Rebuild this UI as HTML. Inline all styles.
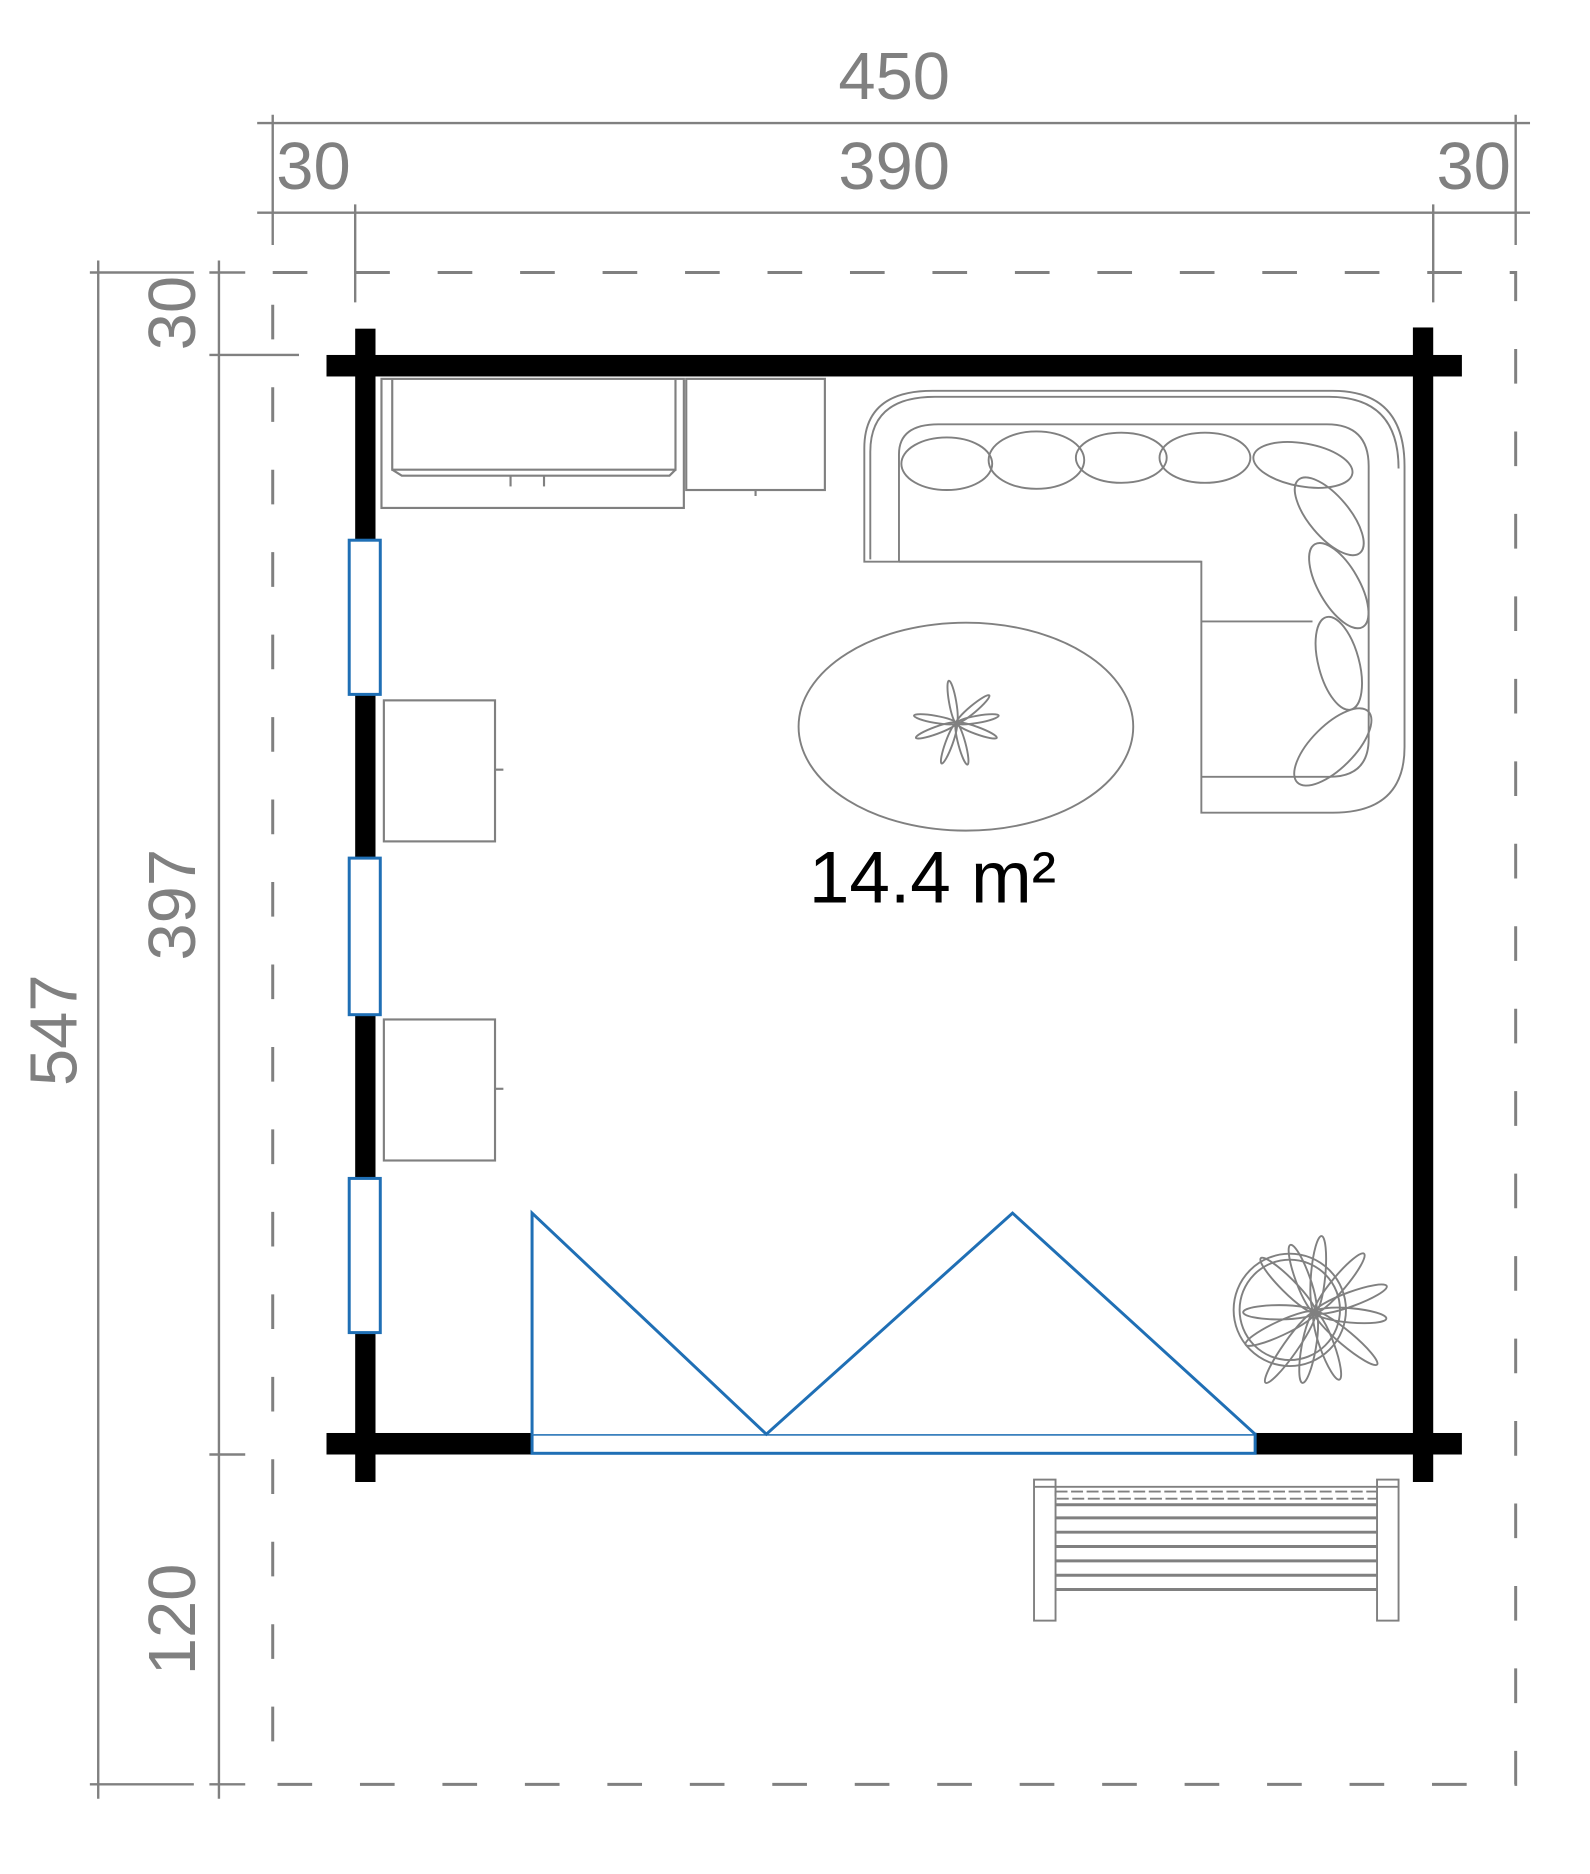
<!DOCTYPE html>
<html><head><meta charset="utf-8"><style>
html,body{margin:0;padding:0;background:#fff;}
svg{display:block;}
text{font-family:"Liberation Sans",Arial,sans-serif;fill:#808080;}
</style></head><body>
<svg width="1590" height="1874" viewBox="0 0 1330 1568" xmlns="http://www.w3.org/2000/svg">
<rect width="1330" height="1568" fill="#fff"/>
<g stroke="#808080" stroke-width="2" fill="none">
  <line x1="215" y1="103" x2="1280" y2="103"/>
  <line x1="215" y1="178" x2="1280" y2="178"/>
  <line x1="228" y1="96" x2="228" y2="205"/>
  <line x1="1268" y1="96" x2="1268" y2="205"/>
  <line x1="297" y1="171" x2="297" y2="253"/>
  <line x1="1199" y1="171" x2="1199" y2="253"/>
  <line x1="82" y1="218" x2="82" y2="1505"/>
  <line x1="183" y1="218" x2="183" y2="1505"/>
  <line x1="75" y1="228" x2="162" y2="228"/>
  <line x1="175" y1="228" x2="205" y2="228"/>
  <line x1="175" y1="297" x2="250" y2="297"/>
  <line x1="175" y1="1217" x2="205" y2="1217"/>
  <line x1="75" y1="1493" x2="162" y2="1493"/>
  <line x1="175" y1="1493" x2="205" y2="1493"/>
</g>
<rect x="228" y="228" width="1040" height="1265" fill="none" stroke="#808080" stroke-width="2.5" stroke-dasharray="29 40"/>
<g style="font-size:56px">
<text x="748" y="83" text-anchor="middle">450</text>
<text x="231" y="158">30</text>
<text x="748" y="158" text-anchor="middle">390</text>
<text x="1264" y="158" text-anchor="end">30</text>
<text transform="translate(64,862) rotate(-90)" text-anchor="middle">547</text>
<text transform="translate(163,262) rotate(-90)" text-anchor="middle">30</text>
<text transform="translate(163,757) rotate(-90)" text-anchor="middle">397</text>
<text transform="translate(163,1355) rotate(-90)" text-anchor="middle">120</text>
</g>

<g fill="#000">
  <rect x="273" y="297" width="950" height="18"/>
  <rect x="273" y="1199" width="950" height="18"/>
  <rect x="297" y="275" width="17" height="965"/>
  <rect x="1182" y="274" width="17" height="966"/>
</g>
<g fill="#fff" stroke="#1f6fb5" stroke-width="2.5">
  <rect x="292" y="452" width="26" height="129"/>
  <rect x="292" y="718" width="26" height="131"/>
  <rect x="292" y="986" width="26" height="129"/>
  <rect x="445" y="1200" width="605" height="16"/>
  <polyline points="445,1200 445,1015 641,1200 847,1015 1050,1200"/>
</g>

<g fill="none" stroke="#808080" stroke-width="1.8">
  <rect x="319" y="317" width="253" height="108"/>
  <path d="M328,317 L328,393 L565,393 L565,317"/>
  <path d="M328,393 L336,398 L560,398 L565,393"/>
  <line x1="427" y1="398" x2="427" y2="407"/><line x1="455" y1="398" x2="455" y2="407"/>
  <rect x="574" y="317" width="116" height="93"/>
  <line x1="632" y1="410" x2="632" y2="415"/>
  <rect x="321" y="586" width="93" height="118"/>
  <line x1="414" y1="644" x2="421" y2="644"/>
  <rect x="321" y="853" width="93" height="118"/>
  <line x1="414" y1="911" x2="421" y2="911"/>
</g>

<g fill="none" stroke="#808080" stroke-width="1.6">
  <path d="M723,470 L723,375 Q723,327 780,327 L1115,327 Q1175,327 1175,390 L1175,625 Q1175,680 1115,680 L1005,680 L1005,470 Z"/>
  <path d="M728,468 L728,378 Q728,332 782,332 L1112,332 Q1170,332 1170,392"/>
  <path d="M752,470 L752,380 Q752,355 785,355 L1110,355 Q1145,355 1145,390 L1145,618 Q1145,650 1112,650 L1005,650"/>
  <line x1="1005" y1="520" x2="1098" y2="520"/>
  <line x1="752" y1="470" x2="1005" y2="470"/>
  <g>
    <ellipse cx="792" cy="388" rx="38" ry="22"/>
    <ellipse cx="867" cy="385" rx="40" ry="24"/>
    <ellipse cx="938" cy="383" rx="38" ry="21"/>
    <ellipse cx="1008" cy="383" rx="38" ry="21"/>
    <ellipse cx="1090" cy="389" rx="42" ry="18" transform="rotate(10 1090 389)"/>
    <ellipse cx="1112" cy="432" rx="40" ry="17" transform="rotate(50 1112 432)"/>
    <ellipse cx="1120" cy="490" rx="40" ry="17" transform="rotate(60 1120 490)"/>
    <ellipse cx="1120" cy="555" rx="40" ry="17" transform="rotate(75 1120 555)"/>
    <ellipse cx="1115" cy="625" rx="42" ry="18" transform="rotate(-45 1115 625)"/>
  </g>
  <ellipse cx="808" cy="608" rx="140" ry="87"/>
  <g transform="translate(800,605)">
    <ellipse cx="18" cy="0" rx="18" ry="3" transform="rotate(-40)"/>
    <ellipse cx="18" cy="0" rx="18" ry="3" transform="rotate(20)"/>
    <ellipse cx="18" cy="0" rx="18" ry="3" transform="rotate(75)"/>
    <ellipse cx="18" cy="0" rx="18" ry="3" transform="rotate(110)"/>
    <ellipse cx="18" cy="0" rx="18" ry="3" transform="rotate(160)"/>
    <ellipse cx="18" cy="0" rx="18" ry="3" transform="rotate(190)"/>
    <ellipse cx="18" cy="0" rx="18" ry="3" transform="rotate(260)"/>
    <ellipse cx="18" cy="0" rx="18" ry="3" transform="rotate(-10)"/>
  </g>
</g>
<text x="780" y="755" text-anchor="middle" style="fill:#000;font-size:61px">14.4 m²</text>

<g fill="none" stroke="#808080" stroke-width="1.6">
  <circle cx="1079" cy="1096" r="47"/>
  <circle cx="1079" cy="1096" r="42"/>
  <g transform="translate(1100,1098)">
    <ellipse cx="32" cy="0" rx="32" ry="6" transform="rotate(-50)"/>
    <ellipse cx="32" cy="0" rx="32" ry="6" transform="rotate(-20)"/>
    <ellipse cx="30" cy="0" rx="30" ry="6" transform="rotate(5)"/>
    <ellipse cx="34" cy="0" rx="34" ry="6" transform="rotate(40)"/>
    <ellipse cx="30" cy="0" rx="30" ry="6" transform="rotate(70)"/>
    <ellipse cx="30" cy="0" rx="30" ry="6" transform="rotate(100)"/>
    <ellipse cx="36" cy="0" rx="36" ry="6" transform="rotate(125)"/>
    <ellipse cx="32" cy="0" rx="32" ry="6" transform="rotate(155)"/>
    <ellipse cx="30" cy="0" rx="30" ry="6" transform="rotate(180)"/>
    <ellipse cx="32" cy="0" rx="32" ry="6" transform="rotate(-135)"/>
    <ellipse cx="30" cy="0" rx="30" ry="6" transform="rotate(-110)"/>
    <ellipse cx="32" cy="0" rx="32" ry="6" transform="rotate(-85)"/>
  </g>
</g>

<g fill="none" stroke="#808080" stroke-width="1.6">
  <rect x="865" y="1238" width="18" height="118"/>
  <rect x="1152" y="1238" width="18" height="118"/>
  <line x1="865" y1="1244" x2="1170" y2="1244"/>
  <rect x="883" y="1248" width="269" height="6" stroke-dasharray="10 3"/>
  <g stroke-width="2.5">
    <line x1="883" y1="1259" x2="1152" y2="1259"/>
    <line x1="883" y1="1270" x2="1152" y2="1270"/>
    <line x1="883" y1="1282" x2="1152" y2="1282"/>
    <line x1="883" y1="1294" x2="1152" y2="1294"/>
    <line x1="883" y1="1306" x2="1152" y2="1306"/>
    <line x1="883" y1="1318" x2="1152" y2="1318"/>
    <line x1="883" y1="1330" x2="1152" y2="1330"/>
  </g>
</g>
</svg>
</body></html>
